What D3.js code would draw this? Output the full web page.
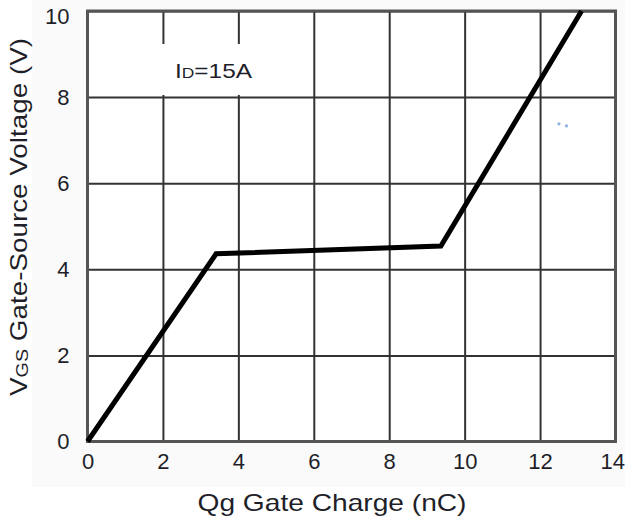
<!DOCTYPE html>
<html>
<head>
<meta charset="utf-8">
<script src="https://cdn.jsdelivr.net/npm/d3@7"></script>
<style>
  body { margin: 0; background: #fff; }
  text { font-family: "Liberation Sans", Arial, sans-serif; fill: #1f1f29; }
</style>
</head>
<body>
<div id="chart"></div>
<script>
// gate charge curve
var qg = [0, 3.41, 9.37, 13.1];
var vgs = [0, 4.36, 4.54, 10];
var xTicks = [0, 2, 4, 6, 8, 10, 12, 14];
var yTicks = [0, 2, 4, 6, 8, 10];
// two stray blue specks in the scan
var speckX = [12.5, 12.7];
var speckY = [7.38, 7.33];

var W = 625, H = 525;
var L = 87.5, R = 615.5, T = 11, B = 441.5;

var svg = d3.select("#chart").append("svg")
  .attr("width", W)
  .attr("height", H);

svg.append("rect")
  .attr("x", 32).attr("y", 0)
  .attr("width", W - 32).attr("height", 487)
  .attr("fill", "#fafafa");

var x = d3.scaleLinear().domain([0, 14]).range([L, R]);
var y = d3.scaleLinear().domain([0, 10]).range([B, T]);

svg.append("rect")
  .attr("x", L).attr("y", T)
  .attr("width", R - L).attr("height", B - T)
  .attr("fill", "#fff");

// grid + tick labels through the axes
var xAxis = svg.append("g")
  .attr("transform", "translate(0," + B + ")")
  .call(d3.axisBottom(x).tickValues(xTicks).tickSize(-(B - T)).tickPadding(12).tickFormat(d3.format("d")));
var yAxis = svg.append("g")
  .attr("transform", "translate(" + L + ",0)")
  .call(d3.axisLeft(y).tickValues(yTicks).tickSize(-(R - L)).tickPadding(18).tickFormat(d3.format("d")));

[xAxis, yAxis].forEach(function(g) {
  g.attr("font-size", null).attr("font-family", null);
  g.select(".domain").remove();
  g.selectAll("line").attr("stroke", "#333").attr("stroke-width", 2);
  g.selectAll("text")
    .style("font-size", "22px")
    .style("fill", "#1f1f29")
    .style("font-family", "'Liberation Sans', Arial, sans-serif");
});

// last x label sits against the right edge, top y label hangs a bit lower
xAxis.selectAll(".tick text").filter(function(d) { return d === 14; })
  .attr("text-anchor", "end").attr("x", 9);
yAxis.selectAll(".tick text").filter(function(d) { return d === 10; })
  .attr("y", 5);

// label box hides the grid behind it
svg.append("rect")
  .attr("x", 158).attr("y", 44)
  .attr("width", 132).attr("height", 51)
  .attr("fill", "#fff");

var idLabel = svg.append("text")
  .attr("x", 175).attr("y", 78)
  .attr("font-size", 21)
  .attr("textLength", 77)
  .attr("lengthAdjust", "spacingAndGlyphs");
idLabel.append("tspan").text("I");
idLabel.append("tspan").attr("font-size", 15).text("D");
idLabel.append("tspan").text("=15A");

// frame
svg.append("rect")
  .attr("x", L).attr("y", T)
  .attr("width", R - L).attr("height", B - T)
  .attr("fill", "none")
  .attr("stroke", "#555")
  .attr("stroke-width", 3);

var line = d3.line()
  .x(function(d, i) { return x(qg[i]); })
  .y(function(d, i) { return y(vgs[i]); });

svg.append("path")
  .attr("d", line(qg))
  .attr("fill", "none")
  .attr("stroke", "#000")
  .attr("stroke-width", 5)
  .attr("stroke-linejoin", "miter");

svg.selectAll(".speck")
  .data(speckX)
  .enter().append("circle")
  .attr("class", "speck")
  .attr("cx", function(d) { return x(d); })
  .attr("cy", function(d, i) { return y(speckY[i]); })
  .attr("r", 1.6)
  .attr("fill", "#8fb3df");

// axis titles
svg.append("text")
  .attr("x", 332).attr("y", 511)
  .attr("text-anchor", "middle")
  .attr("font-size", 24)
  .attr("textLength", 269)
  .attr("lengthAdjust", "spacingAndGlyphs")
  .text("Qg Gate Charge (nC)");

var yTitle = svg.append("text")
  .attr("transform", "translate(27,217) rotate(-90)")
  .attr("text-anchor", "middle")
  .attr("font-size", 24)
  .attr("textLength", 358)
  .attr("lengthAdjust", "spacingAndGlyphs");
yTitle.append("tspan").text("V");
yTitle.append("tspan").attr("font-size", 17).attr("dy", 1).text("GS");
yTitle.append("tspan").attr("dy", -1).text(" Gate-Source Voltage (V)");
</script>
</body>
</html>
